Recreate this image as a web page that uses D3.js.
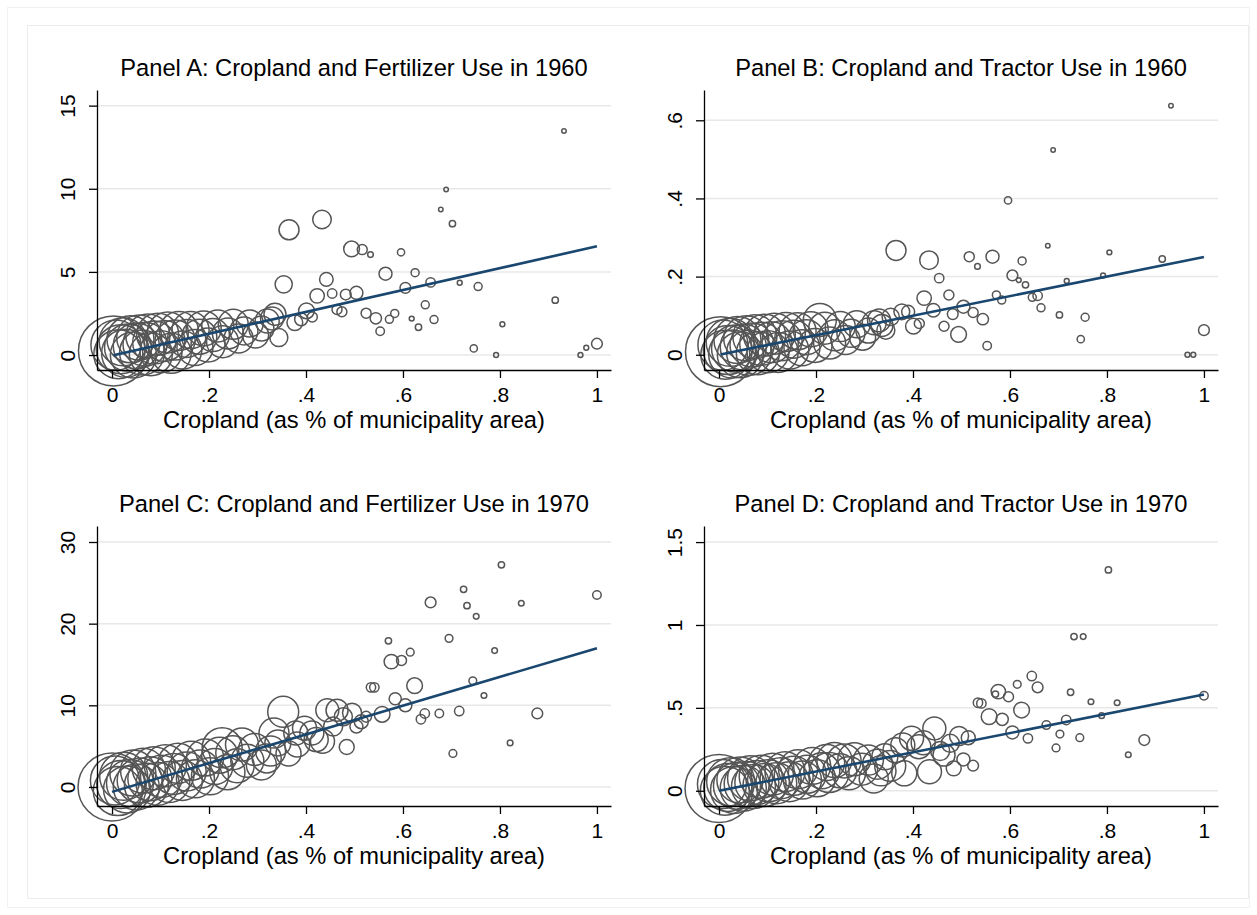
<!DOCTYPE html>
<html>
<head>
<meta charset="utf-8">
<script src="https://cdnjs.cloudflare.com/ajax/libs/d3/7.8.5/d3.min.js"></script>
<style>
  body { margin: 0; background: #fff; }
  text { font-family: "Liberation Sans", Arial, Helvetica, sans-serif; }
</style>
</head>
<body>
<div id="chart-area"></div>
<script>
// binned municipalities, 1960: cropland share, weight, fertilizer, tractors
const x1960 = [0.003, 0.008, 0.013, 0.018, 0.023, 0.028, 0.033, 0.038, 0.044, 0.050,
  0.056, 0.062, 0.068, 0.074, 0.080, 0.087, 0.094, 0.101, 0.108, 0.115,
  0.122, 0.130, 0.138, 0.146, 0.154, 0.162, 0.171, 0.180, 0.189, 0.198,
  0.208, 0.218, 0.228, 0.239, 0.250, 0.261, 0.272, 0.284, 0.296, 0.308,
  0.320, 0.330, 0.336,
  0.344, 0.354, 0.365, 0.377, 0.390, 0.401, 0.413, 0.423, 0.433, 0.442,
  0.454, 0.464, 0.474, 0.482, 0.494, 0.504, 0.516, 0.524, 0.533, 0.544,
  0.553, 0.564, 0.572, 0.583, 0.596, 0.605, 0.618, 0.625, 0.632, 0.646,
  0.657, 0.664, 0.678, 0.689, 0.702, 0.717, 0.746, 0.755, 0.792, 0.805,
  0.914, 0.932, 0.966, 0.978, 1.000];
const w1960 = [1225, 625, 600, 600, 576, 576, 552, 552, 529, 529,
  506, 506, 484, 484, 462, 462, 441, 441, 420, 420,
  400, 400, 380, 361, 361, 342, 324, 306, 306, 289,
  272, 256, 256, 240, 225, 210, 196, 182, 169, 156,
  144, 132, 121,
  81, 74, 100, 62, 42, 62, 25, 52, 86, 46,
  22, 25, 25, 29, 62, 42, 25, 25, 8, 32,
  18, 42, 16, 16, 13, 29, 6, 16, 10, 16,
  22, 16, 5, 5, 10, 6, 13, 16, 6, 6,
  10, 5, 6, 6, 29];
const fert1960 = [0.25, 0.60, 0.05, 0.35, 0.80, 0.10, 0.45, 0.95, 0.00, 0.55,
  1.05, 0.15, 0.65, 1.15, 0.05, 0.75, 1.25, 0.20, 0.85, 1.35,
  0.10, 0.90, 1.45, 0.30, 1.00, 1.50, 0.45, 1.10, 1.60, 0.60,
  1.20, 1.75, 0.80, 1.30, 1.85, 1.00, 1.45, 1.90, 1.20, 1.60,
  2.05, 2.20, 2.45,
  1.05, 4.25, 7.53, 1.95, 2.15, 2.66, 2.29, 3.56, 8.15, 4.55,
  3.70, 2.74, 2.60, 3.64, 6.38, 3.74, 6.34, 2.52, 6.04, 2.21,
  1.43, 4.89, 2.15, 2.50, 6.18, 4.04, 2.19, 4.95, 1.67, 3.02,
  4.37, 2.13, 8.75, 9.96, 7.90, 4.35, 0.40, 4.12, 0.00, 1.85,
  3.30, 13.48, 0.00, 0.44, 0.68];
const tractor1960 = [0.008, 0.025, 0.000, 0.012, 0.032, 0.002, 0.016, 0.038, 0.000, 0.020,
  0.042, 0.005, 0.025, 0.046, 0.004, 0.028, 0.050, 0.008, 0.032, 0.054,
  0.006, 0.036, 0.058, 0.012, 0.040, 0.060, 0.018, 0.045, 0.065, 0.024,
  0.089, 0.068, 0.030, 0.050, 0.072, 0.038, 0.055, 0.078, 0.045, 0.062,
  0.082, 0.088, 0.075,
  0.063, 0.097, 0.267, 0.110, 0.110, 0.073, 0.080, 0.145, 0.242, 0.114,
  0.196, 0.073, 0.153, 0.104, 0.052, 0.123, 0.251, 0.108, 0.226, 0.091,
  0.023, 0.251, 0.153, 0.140, 0.395, 0.203, 0.191, 0.240, 0.179, 0.147,
  0.151, 0.120, 0.279, 0.524, 0.102, 0.189, 0.040, 0.096, 0.203, 0.262,
  0.245, 0.637, 0.000, 0.000, 0.063];

// binned municipalities, 1970
const x1970 = [0.000, 0.006, 0.012, 0.018, 0.024, 0.031, 0.037, 0.043, 0.050, 0.057,
  0.064, 0.071, 0.078, 0.086, 0.094, 0.102, 0.110, 0.118, 0.127, 0.136,
  0.145, 0.154, 0.163, 0.172, 0.182, 0.192, 0.202, 0.212, 0.222, 0.227,
  0.238, 0.249, 0.258, 0.268, 0.279, 0.294, 0.308, 0.319, 0.327, 0.334,
  0.342,
  0.353, 0.364, 0.379, 0.382, 0.397, 0.412, 0.421, 0.434, 0.444, 0.456,
  0.464, 0.477, 0.484, 0.495, 0.504, 0.514, 0.524, 0.534, 0.541, 0.557,
  0.570, 0.576, 0.584, 0.597, 0.605, 0.615, 0.624, 0.637, 0.645, 0.657,
  0.675, 0.695, 0.703, 0.716, 0.725, 0.732, 0.744, 0.751, 0.767, 0.789,
  0.803, 0.821, 0.844, 0.877, 1.000];
const w1970 = [1156, 600, 600, 576, 576, 552, 552, 529, 529, 506,
  506, 484, 484, 462, 462, 441, 441, 420, 420, 400,
  400, 380, 380, 361, 361, 342, 342, 324, 324, 400,
  306, 289, 289, 272, 272, 256, 225, 210, 225, 225,
  169,
  240, 156, 144, 156, 144, 144, 144, 144, 132, 90,
  121, 81, 56, 90, 42, 49, 29, 22, 22, 62,
  10, 52, 37, 25, 42, 15, 62, 22, 22, 29,
  18, 15, 15, 22, 10, 10, 15, 8, 8, 8,
  10, 8, 8, 29, 18];
const fert1970 = [0.0, 0.8, -0.5, 0.3, 1.3, -0.3, 0.5, 1.7, 0.0, 0.8,
  2.0, 0.2, 1.0, 2.3, 0.4, 1.3, 2.6, 0.6, 1.6, 2.9,
  0.8, 1.9, 3.2, 1.0, 2.2, 3.6, 1.3, 2.5, 3.9, 4.8,
  1.8, 4.2, 2.6, 5.2, 3.2, 4.6, 2.7, 3.5, 4.4, 6.6,
  5.4,
  9.2, 4.1, 6.6, 5.2, 7.2, 6.6, 5.8, 5.6, 9.4, 7.4,
  9.4, 8.6, 4.9, 9.1, 7.4, 8.0, 8.6, 12.2, 12.2, 8.9,
  17.9, 15.35, 10.8, 15.5, 10.0, 16.5, 12.4, 8.3, 9.0, 22.6,
  9.0, 18.2, 4.1, 9.3, 24.2, 22.2, 13.0, 20.9, 11.2, 16.7,
  27.2, 5.4, 22.5, 9.0, 23.5];
const tractor1970 = [0.014, 0.040, 0.000, 0.020, 0.055, 0.005, 0.030, 0.065, 0.015, 0.040,
  0.075, 0.025, 0.050, 0.085, 0.035, 0.060, 0.100, 0.045, 0.075, 0.115,
  0.055, 0.090, 0.130, 0.065, 0.100, 0.150, 0.075, 0.120, 0.170, 0.110,
  0.185, 0.120, 0.180, 0.105, 0.190, 0.130, 0.185, 0.074, 0.160, 0.120,
  0.205,
  0.150, 0.245, 0.276, 0.105, 0.316, 0.266, 0.290, 0.115, 0.376, 0.240,
  0.215, 0.286, 0.135, 0.330, 0.189, 0.320, 0.151, 0.531, 0.527, 0.447,
  0.583, 0.598, 0.431, 0.567, 0.352, 0.642, 0.487, 0.316, 0.692, 0.624,
  0.396, 0.258, 0.342, 0.427, 0.594, 0.930, 0.320, 0.930, 0.537, 0.453,
  1.332, 0.531, 0.217, 0.306, 0.573];

// linear fits (intercept, slope) for panels A-D
const fitIntercepts = [-0.03, 0.0, -0.6, 0.0];
const fitSlopes = [6.57, 0.25, 17.6, 0.58];

const panelTitles = [
  "Panel A: Cropland and Fertilizer Use in 1960",
  "Panel B: Cropland and Tractor Use in 1960",
  "Panel C: Cropland and Fertilizer Use in 1970",
  "Panel D: Cropland and Tractor Use in 1970"
];
const xTitle = "Cropland (as % of municipality area)";
const xTicks = [0, 0.2, 0.4, 0.6, 0.8, 1];
const yTicksA = [0, 5, 10, 15];
const yTicksB = [0, 0.2, 0.4, 0.6];
const yTicksC = [0, 10, 20, 30];
const yTicksD = [0, 0.5, 1, 1.5];

const W = 1257, H = 915;
const plotW = 514, plotH = 280;
const xDomain = [-0.031, 1.029];
const markColor = "#555555";
const fitColor = "#1a476f";

const panels = [
  { title: panelTitles[0], xs: x1960, ws: w1960, ys: fert1960, ticks: yTicksA,
    yDomain: [-0.9, 15.94], left: 97, top: 90, a: fitIntercepts[0], b: fitSlopes[0] },
  { title: panelTitles[1], xs: x1960, ws: w1960, ys: tractor1960, ticks: yTicksB,
    yDomain: [-0.039, 0.6775], left: 704, top: 90, a: fitIntercepts[1], b: fitSlopes[1] },
  { title: panelTitles[2], xs: x1970, ws: w1970, ys: fert1970, ticks: yTicksC,
    yDomain: [-2.33, 31.96], left: 97, top: 526, a: fitIntercepts[2], b: fitSlopes[2] },
  { title: panelTitles[3], xs: x1970, ws: w1970, ys: tractor1970, ticks: yTicksD,
    yDomain: [-0.092, 1.597], left: 704, top: 526, a: fitIntercepts[3], b: fitSlopes[3] }
];

const fmt = d => d === 0 ? "0" : String(+d.toFixed(2)).replace(/^0\./, ".");

const svg = d3.select("#chart-area")
  .append("svg")
  .attr("width", W)
  .attr("height", H);

svg.append("rect")
  .attr("width", W)
  .attr("height", H)
  .attr("fill", "#fff");

// faint graph-region frames
svg.append("rect")
  .attr("x", 7.5).attr("y", 7.5)
  .attr("width", 1242).attr("height", 900)
  .attr("fill", "none")
  .attr("stroke", "#f2f2f2");

svg.append("rect")
  .attr("x", 27.5).attr("y", 25.5)
  .attr("width", 1221).attr("height", 873)
  .attr("fill", "none")
  .attr("stroke", "#ececec");

const r = d3.scaleSqrt().domain([0, 1225]).range([0, 35]);

panels.forEach(drawPanel);

function drawPanel(p) {
  const g = svg.append("g");

  const x = d3.scaleLinear().domain(xDomain).range([p.left, p.left + plotW]);
  const y = d3.scaleLinear().domain(p.yDomain).range([p.top + plotH, p.top]);

  g.selectAll(".grid")
    .data(p.ticks)
    .enter().append("line")
    .attr("x1", p.left)
    .attr("x2", p.left + plotW)
    .attr("y1", d => y(d))
    .attr("y2", d => y(d))
    .attr("stroke", "#e8e8e8")
    .attr("stroke-width", 1.5);

  const pts = p.xs.map((v, i) => ({ x: v, w: p.ws[i], y: p.ys[i] }));

  g.selectAll("circle")
    .data(pts)
    .enter().append("circle")
    .attr("cx", d => x(d.x))
    .attr("cy", d => y(d.y))
    .attr("r", d => r(d.w))
    .attr("fill", "none")
    .attr("stroke", markColor)
    .attr("stroke-width", 1.5);

  const ext = d3.extent(p.xs);
  const line = d3.line()
    .x(d => x(d))
    .y(d => y(p.a + p.b * d));

  g.append("path")
    .datum(ext)
    .attr("d", line)
    .attr("fill", "none")
    .attr("stroke", fitColor)
    .attr("stroke-width", 2.6);

  const xAxis = d3.axisBottom(x)
    .tickValues(xTicks)
    .tickFormat(fmt)
    .tickSize(8)
    .tickSizeOuter(0);

  const yAxis = d3.axisLeft(y)
    .tickValues(p.ticks)
    .tickFormat(fmt)
    .tickSize(8)
    .tickSizeOuter(0);

  const xg = g.append("g")
    .attr("transform", `translate(0, ${p.top + plotH})`)
    .call(xAxis);

  const yg = g.append("g")
    .attr("transform", `translate(${p.left}, 0)`)
    .call(yAxis);

  [xg, yg].forEach(ag => {
    ag.attr("font-family", null).attr("font-size", null);
    ag.selectAll("path, line").attr("stroke", "#000").attr("stroke-width", 1.3);
    ag.selectAll("text").attr("fill", "#000").attr("font-size", "21px");
  });

  xg.selectAll("text")
    .attr("y", 32)
    .attr("dy", null);

  yg.selectAll("text")
    .attr("x", 0)
    .attr("dy", null)
    .attr("text-anchor", "middle")
    .attr("transform", "translate(-21.7, 0) rotate(-90)");

  g.append("text")
    .attr("x", p.left + plotW / 2)
    .attr("y", p.top - 14)
    .attr("text-anchor", "middle")
    .attr("font-size", "23.7px")
    .attr("fill", "#000")
    .text(p.title);

  g.append("text")
    .attr("x", p.left + plotW / 2)
    .attr("y", p.top + plotH + 57.6)
    .attr("text-anchor", "middle")
    .attr("font-size", "23.7px")
    .attr("fill", "#000")
    .text(xTitle);
}
</script>
</body>
</html>
